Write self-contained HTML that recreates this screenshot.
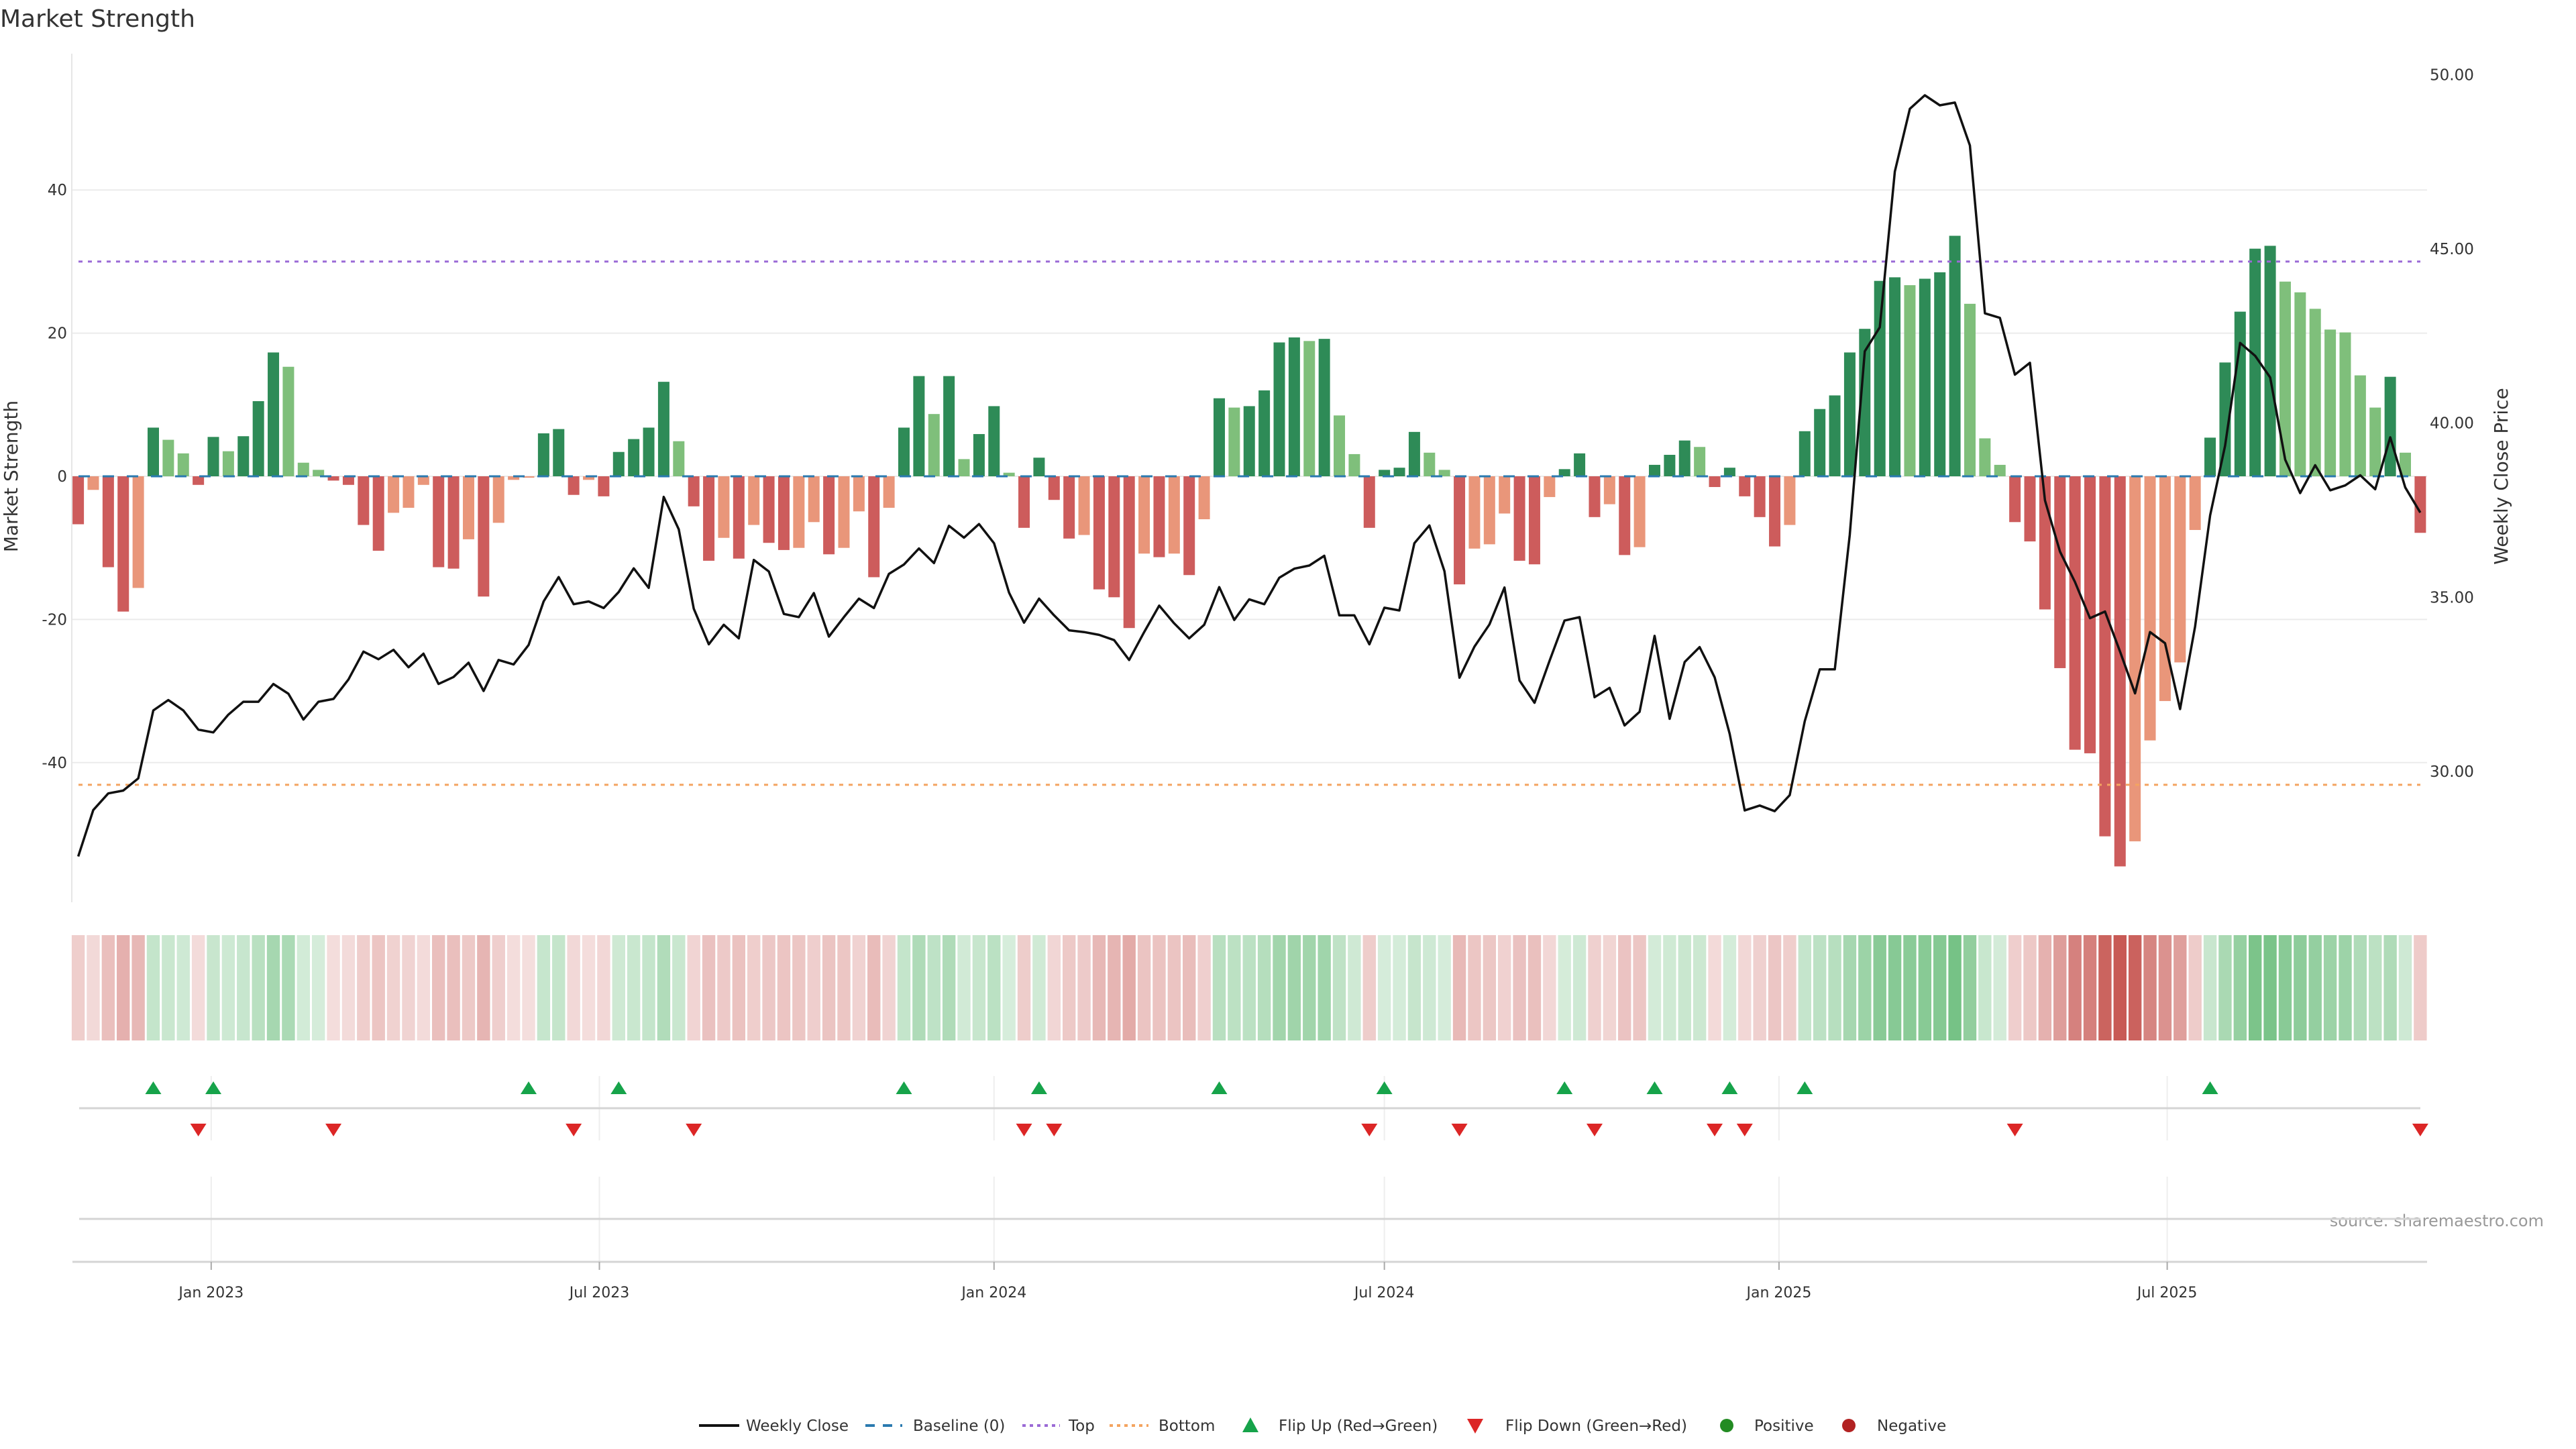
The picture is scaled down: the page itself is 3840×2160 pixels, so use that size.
<!DOCTYPE html>
<html><head><meta charset="utf-8"><title>Market Strength</title>
<style>
html,body{margin:0;padding:0;background:#fff;}
svg{display:block;font-family:"DejaVu Sans","Liberation Sans",sans-serif;}
</style></head>
<body>
<svg id="chart" width="3840" height="2160" viewBox="0 0 3840 2160" xmlns="http://www.w3.org/2000/svg">
<rect x="0" y="0" width="3840" height="2160" fill="#fff"/>
<text x="0" y="40" font-size="36" fill="#333">Market Strength</text>
<text transform="translate(26,710) rotate(-90)" text-anchor="middle" font-size="28" fill="#333">Market Strength</text>
<text transform="translate(3738,710) rotate(-90)" text-anchor="middle" font-size="28" fill="#333">Weekly Close Price</text>
<text x="3792" y="1828" text-anchor="end" font-size="24" fill="#999">source: sharemaestro.com</text>
<g id="grid"></g>
<g id="bars"></g>
<g id="lines"></g>
<g id="heat"></g>
<g id="sig"></g>
<g id="axes"></g>
<g id="legend"></g>
</svg>
<script>
const strength = [-6.7,-1.9,-12.7,-18.9,-15.6,6.8,5.1,3.2,-1.2,5.5,
3.5,5.6,10.5,17.3,15.3,1.9,0.9,-0.6,-1.2,-6.8,
-10.4,-5.1,-4.4,-1.2,-12.7,-12.9,-8.8,-16.8,-6.5,-0.5,
-0.2,6.0,6.6,-2.6,-0.5,-2.8,3.4,5.2,6.8,13.2,
4.9,-4.2,-11.8,-8.6,-11.5,-6.8,-9.3,-10.3,-10.0,-6.4,
-10.9,-10.0,-4.9,-14.1,-4.4,6.8,14.0,8.7,14.0,2.4,
5.9,9.8,0.5,-7.2,2.6,-3.3,-8.7,-8.2,-15.8,-16.9,
-21.2,-10.8,-11.3,-10.8,-13.8,-6.0,10.9,9.6,9.8,12.0,
18.7,19.4,18.9,19.2,8.5,3.1,-7.2,0.9,1.2,6.2,
3.3,0.9,-15.1,-10.1,-9.5,-5.2,-11.8,-12.3,-2.9,1.0,
3.2,-5.7,-3.9,-11.0,-9.9,1.6,3.0,5.0,4.1,-1.5,
1.2,-2.8,-5.7,-9.8,-6.8,6.3,9.4,11.3,17.3,20.6,
27.3,27.8,26.7,27.6,28.5,33.6,24.1,5.3,1.6,-6.4,
-9.1,-18.6,-26.8,-38.2,-38.7,-50.3,-54.5,-51.0,-36.9,-31.4,
-26.0,-7.5,5.4,15.9,23.0,31.8,32.2,27.2,25.7,23.4,
20.5,20.1,14.1,9.6,13.9,3.3,-7.9];
const price = [27.56,28.89,29.37,29.45,29.80,31.75,32.05,31.75,31.20,31.12,
31.63,32.00,32.00,32.51,32.23,31.49,32.00,32.08,32.64,33.44,
33.22,33.49,32.99,33.38,32.51,32.71,33.12,32.31,33.20,33.07,
33.63,34.88,35.58,34.80,34.88,34.69,35.15,35.83,35.27,37.88,
36.95,34.67,33.65,34.21,33.82,36.07,35.74,34.52,34.43,35.12,
33.87,34.43,34.96,34.69,35.67,35.94,36.40,35.98,37.05,36.71,
37.10,36.55,35.13,34.27,34.96,34.48,34.05,34.00,33.92,33.77,
33.20,34.00,34.76,34.25,33.82,34.21,35.29,34.35,34.94,34.80,
35.56,35.82,35.91,36.19,34.48,34.48,33.65,34.70,34.62,36.55,
37.06,35.75,32.69,33.58,34.22,35.28,32.61,31.97,33.17,34.33,
34.43,32.13,32.40,31.32,31.71,33.89,31.51,33.14,33.57,32.70,
31.08,28.88,29.02,28.86,29.32,31.44,32.93,32.93,36.79,42.06,
42.75,47.22,49.02,49.41,49.12,49.20,47.97,43.15,43.02,41.39,
41.73,37.78,36.31,35.44,34.40,34.59,33.44,32.24,34.00,33.68,
31.79,34.16,37.35,39.35,42.30,41.93,41.31,38.95,37.99,38.79,
38.07,38.21,38.50,38.10,39.59,38.15,37.43];
const flipUp = [5,9,30,36,55,64,76,87,99,105,110,115,142];
const flipDown = [8,17,33,41,63,65,86,92,101,109,111,129,156];
const topLevel = 30;
const bottomLevel = -43.1;
const yTicks = [40,20,0,-20,-40];
const y2Ticks = [50,45,40,35,30];
const dateTicks = ['2023-01-01','2023-07-01','2024-01-01','2024-07-01','2025-01-01','2025-07-01'];
const dateTickLabels = ['Jan 2023','Jul 2023','Jan 2024','Jul 2024','Jan 2025','Jul 2025'];

const NS='http://www.w3.org/2000/svg';
const startDate = Date.UTC(2022,9,31);
const X0=116.6, PITCH=22.38;
function xIdx(i){return X0+i*PITCH;}
function xDate(s){const p=s.split('-');const d=Date.UTC(+p[0],+p[1]-1,+p[2]);return X0+(d-startDate)/(7*86400000)*PITCH;}
function yS(v){return 710 - v*10.67;}
function yP(p){return 371 + (45-p)*51.93;}
function mk(tag,attrs,parent){const e=document.createElementNS(NS,tag);for(const k in attrs)e.setAttribute(k,attrs[k]);parent.appendChild(e);return e;}
const G=id=>document.getElementById(id);
const PL=108, PR=3618;

const grid=G('grid');
yTicks.forEach(t=>{
  const l=mk('line',{x1:PL,x2:PR,y1:yS(t),y2:yS(t),stroke:'#ebebeb','stroke-width':2},grid);
  
  
  const tx=mk('text',{x:100,y:yS(t)+8,'text-anchor':'end','font-size':23,fill:'#333'},grid);
  tx.textContent=String(t);
  
  
});
y2Ticks.forEach(t=>{
  const tx=mk('text',{x:3622,y:yP(t)+8,'font-size':23,fill:'#333'},grid);
  tx.textContent=t.toFixed(2);
  
  
});
const ax=mk('line',{x1:107,x2:107,y1:80,y2:1345,stroke:'#e6e6e6','stroke-width':2},grid);



const bars=G('bars');
strength.forEach((v,i)=>{
  const prev=i>0?strength[i-1]:null;
  let c;
  if(v>=0){c=(prev===null||v>=prev)?'#2e8b57':'#7fbf7b';}
  else{c=(prev===null||v<=prev)?'#cd5c5c':'#e9967a';}
  const y0=yS(0), y1=yS(v);
  const r=mk('rect',{x:xIdx(i)-8.5,y:Math.min(y0,y1),width:17,height:Math.max(1,Math.abs(y1-y0)),fill:c},bars);
  
  
});

const lines=G('lines');
const bl=mk('line',{x1:117,x2:3608,y1:yS(0),y2:yS(0),stroke:'#2a7ab0','stroke-width':3,'stroke-dasharray':'17 19'},lines);


const tl=mk('line',{x1:117,x2:3608,y1:yS(topLevel),y2:yS(topLevel),stroke:'#9b6ad6','stroke-width':3,'stroke-dasharray':'6 8'},lines);


const btl=mk('line',{x1:117,x2:3608,y1:yS(bottomLevel),y2:yS(bottomLevel),stroke:'#f4a460','stroke-width':3,'stroke-dasharray':'6 8'},lines);


const pts=price.map((p,i)=>xIdx(i).toFixed(1)+','+yP(p).toFixed(1)).join(' ');
const pl=mk('polyline',{points:pts,fill:'none',stroke:'#111','stroke-width':3.5,'stroke-linejoin':'round'},lines);



const heat=G('heat');
const maxAbs=Math.max(...strength.map(Math.abs));
strength.forEach((v,i)=>{
  const t=0.2+0.8*Math.abs(v)/maxAbs;
  const b=v>=0?[58,167,80]:[200,90,85];
  const col='rgb('+b.map(c=>Math.round(255-(255-c)*t)).join(',')+')';
  const r=mk('rect',{x:xIdx(i)-9.7,y:1394,width:19.4,height:157,fill:col},heat);
  
  
});

const sig=G('sig');
dateTicks.forEach(d=>{
  const x=xDate(d);
  [[1604,1700],[1754,1881]].forEach(s=>{
    const l=mk('line',{x1:x,x2:x,y1:s[0],y2:s[1],stroke:'#eeeeee','stroke-width':2},sig);
    
    
  });
});
[1652,1817].forEach(y=>{
  const l=mk('line',{x1:118,x2:3608,y1:y,y2:y,stroke:'#d4d4d4','stroke-width':3},sig);
  
  
});
flipUp.forEach(i=>{
  const x=xIdx(i);
  const p=mk('polygon',{points:`${x-12},1631 ${x+12},1631 ${x},1612`,fill:'#16a34a'},sig);
  
  
});
flipDown.forEach(i=>{
  const x=xIdx(i);
  const p=mk('polygon',{points:`${x-12},1675 ${x+12},1675 ${x},1694`,fill:'#dc2626'},sig);
  
  
});

const axes=G('axes');
const xl=mk('line',{x1:108,x2:3618,y1:1881,y2:1881,stroke:'#d4d4d4','stroke-width':3},axes);


dateTicks.forEach((d,k)=>{
  const x=xDate(d);
  const tk=mk('line',{x1:x,x2:x,y1:1881,y2:1893,stroke:'#aaa','stroke-width':2},axes);
  
  
  const tx=mk('text',{x:x,y:1934,'text-anchor':'middle','font-size':22,fill:'#333'},axes);
  tx.textContent=dateTickLabels[k];
  
  
});

const lg=G('legend');
const LY=2125;
function ltext(x,s){const t=mk('text',{x:x,y:LY+8,'font-size':23,fill:'#333'},lg);t.textContent=s;}
let e;
e=mk('line',{x1:1042,x2:1102,y1:LY,y2:LY,stroke:'#111','stroke-width':4},lg);


ltext(1112,'Weekly Close');
e=mk('line',{x1:1290,x2:1345,y1:LY,y2:LY,stroke:'#2a7ab0','stroke-width':4,'stroke-dasharray':'14 12'},lg);


ltext(1361,'Baseline (0)');
e=mk('line',{x1:1524,x2:1580,y1:LY,y2:LY,stroke:'#9b6ad6','stroke-width':4,'stroke-dasharray':'5 6'},lg);


ltext(1593,'Top');
e=mk('line',{x1:1654,x2:1712,y1:LY,y2:LY,stroke:'#f4a460','stroke-width':4,'stroke-dasharray':'5 6'},lg);


ltext(1727,'Bottom');
e=mk('polygon',{points:'1852,2135 1876,2135 1864,2113',fill:'#16a34a'},lg);


ltext(1906,'Flip Up (Red→Green)');
e=mk('polygon',{points:'2187,2115 2211,2115 2199,2137',fill:'#dc2626'},lg);


ltext(2244,'Flip Down (Green→Red)');
e=mk('circle',{cx:2574,cy:LY,r:10,fill:'#228b22'},lg);


ltext(2615,'Positive');
e=mk('circle',{cx:2756,cy:LY,r:10,fill:'#b22222'},lg);


ltext(2798,'Negative');
</script>
</body></html>
